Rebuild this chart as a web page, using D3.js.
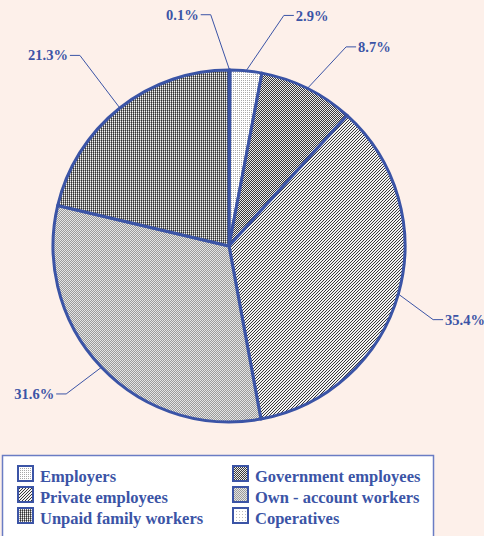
<!DOCTYPE html>
<html>
<head>
<meta charset="utf-8">
<script src="https://cdn.jsdelivr.net/npm/d3@7"></script>
<style>
  body { margin: 0; background: #fdf0ea; }
  svg { display: block; }
  text { font-family: "Liberation Serif", "DejaVu Serif", serif; font-weight: bold; fill: #3b54a6; }
</style>
</head>
<body>
<div id="chart"></div>
<script>
'use strict'

// data, clockwise from 12 o'clock
const categories = ['Coperatives', 'Employers', 'Government employees', 'Private employees', 'Own - account workers', 'Unpaid family workers']
const shares = [0.1, 2.9, 8.7, 35.4, 31.6, 21.3]
// legend order, as in the picture
const legendOrder = ['Employers', 'Government employees', 'Private employees', 'Own - account workers', 'Unpaid family workers', 'Coperatives']

// label placement: extra turn (degrees) and radius of the elbow, per slice
const labelNudge = [-4.7, 7.8, 4, 4, 1.3, 0.3]
const labelRadius = [232, 237, 231, 217, 220, 242]

let width = 484
let height = 536
let cx = 229
let cy = 246
let radius = 176
let blue = '#3b54a6'

let svg = d3.select('#chart').append('svg')
  .attr('width', width)
  .attr('height', height)

svg.append('rect').attr('width', width).attr('height', height).attr('fill', '#fdf0ea')

/*
  fill patterns, one per category (pixel cells)
*/
let patterns = {
  'Coperatives': { size: 3, bg: '#ffffff', px: [[0, 0, '#bdbdbd']] },
  'Employers': { size: 2, bg: '#ffffff', px: [[0, 0, '#a8a8a8']] },
  'Government employees': { size: 2, bg: '#ececec', px: [[0, 0, '#3a3a3a'], [1, 1, '#3a3a3a']] },
  'Private employees': { size: 3, bg: '#f2f2f2', px: [[0, 2, '#383838'], [1, 1, '#383838'], [2, 0, '#383838']] },
  'Own - account workers': { size: 2, bg: '#e4e4e4', px: [[0, 0, '#9a9a9a'], [1, 1, '#9a9a9a']] },
  'Unpaid family workers': { size: 2, bg: '#f6f6f6', px: [[0, 0, '#333'], [0, 1, '#666'], [1, 0, '#a0a0a0']] }
}

let defs = svg.append('defs')
categories.forEach(function (c, i) {
  let p = patterns[c]
  let pat = defs.append('pattern')
    .attr('id', 'pat' + i)
    .attr('patternUnits', 'userSpaceOnUse')
    .attr('width', p.size)
    .attr('height', p.size)
  pat.append('rect').attr('width', p.size).attr('height', p.size).attr('fill', p.bg)
  p.px.forEach(function (q) {
    pat.append('rect').attr('x', q[0]).attr('y', q[1]).attr('width', 1).attr('height', 1)
      .attr('fill', q[2]).attr('shape-rendering', 'crispEdges')
  })
})
function fillOf(name) {
  return 'url(#pat' + categories.indexOf(name) + ')'
}

/*
  the pie
*/
let pie = d3.pie().sort(null).value(function (d) { return d })
let arcs = pie(shares)
let arc = d3.arc().innerRadius(0).outerRadius(radius)

let g = svg.append('g').attr('transform', 'translate(' + cx + ',' + cy + ')')

g.selectAll('path.slice')
  .data(arcs)
  .enter()
  .append('path')
  .attr('class', 'slice')
  .attr('d', arc)
  .attr('fill', function (d, i) { return 'url(#pat' + i + ')' })
  .attr('stroke', blue)
  .attr('stroke-width', 3)
  .attr('stroke-linejoin', 'round')

// leader lines and labels
function polar(r, a) {
  return [r * Math.sin(a), -r * Math.cos(a)]
}
arcs.forEach(function (d, i) {
  let mid = (d.startAngle + d.endAngle) / 2
  let p0 = polar(radius, mid)
  let elbowAngle = mid + labelNudge[i] * Math.PI / 180
  let p1 = polar(labelRadius[i], elbowAngle)
  let right = Math.sin(elbowAngle) > 0
  let p2 = [p1[0] + (right ? 10 : -10), p1[1]]

  g.append('polyline')
    .attr('points', [p0, p1, p2].map(function (p) { return p.join(',') }).join(' '))
    .attr('fill', 'none')
    .attr('stroke', blue)
    .attr('stroke-width', 1)

  g.append('text')
    .attr('x', p2[0] + (right ? 2 : -2))
    .attr('y', p2[1])
    .attr('dy', '0.35em')
    .attr('text-anchor', right ? 'start' : 'end')
    .style('font-size', '14.5px')
    .text(d3.format('.1f')(shares[i]) + '%')
})

/*
  legend
*/
let legend = svg.append('g')
legend.append('rect')
  .attr('x', 2.5)
  .attr('y', 455.5)
  .attr('width', 431)
  .attr('height', 100)
  .attr('fill', '#ffffff')
  .attr('stroke', '#6a7cc4')
  .attr('stroke-width', 1.5)

let legendRectSize = 15
let rowStep = 21
let items = legend.selectAll('g.item')
  .data(legendOrder)
  .enter()
  .append('g')
  .attr('class', 'item')
  .attr('transform', function (d, i) {
    let col = i % 2
    let row = Math.floor(i / 2)
    return 'translate(' + (col ? 233 : 18) + ',' + (466 + row * rowStep) + ')'
  })

items.append('rect')
  .attr('width', legendRectSize)
  .attr('height', legendRectSize)
  .attr('fill', function (d) { return fillOf(d) })
  .attr('stroke', blue)
  .attr('stroke-width', 2)

items.append('text')
  .attr('x', 22)
  .attr('y', 16)
  .style('font-size', '16.5px')
  .text(function (d) { return d })
</script>
</body>
</html>
